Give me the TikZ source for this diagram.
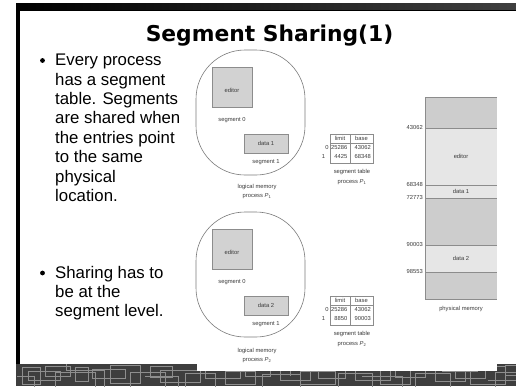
\documentclass[tikz,border=0pt]{standalone}
\usepackage{fontspec}
\setmainfont{Liberation Sans}
\newfontfamily\titlefont{DejaVu Sans}
\definecolor{txtgray}{HTML}{3A3A3A}
\definecolor{linegray}{HTML}{8C8C8C}
\definecolor{blobgray}{HTML}{7A7A7A}
\definecolor{seggray}{HTML}{D2D2D2}
\definecolor{memdark}{HTML}{CDCDCD}
\definecolor{memlight}{HTML}{E6E6E6}
\definecolor{banddark}{HTML}{3E3E3E}
\definecolor{bandline}{HTML}{8E8E8E}
\tikzset{
  lbl/.style={font=\fontsize{5.8}{6.5}\selectfont, text=txtgray, inner sep=0pt,
              text height=4.2pt, text depth=1.2pt},
  numr/.style={lbl, anchor=east},
  segbox/.style={draw=linegray, fill=seggray, line width=0.5pt, inner sep=0pt},
  blob/.style={draw=blobgray, line width=0.6pt, rounded corners=49pt},
  tabline/.style={draw=linegray, line width=0.5pt},
  memline/.style={draw=linegray, line width=0.6pt},
  bultext/.style={font=\fontsize{16.8}{19.4}\selectfont, anchor=base west, inner sep=0pt},
  buldot/.style={circle, fill=black, inner sep=0pt, minimum size=4.8pt},
  maze/.style={draw=bandline, line width=0.7pt},
}
\begin{document}
\begin{tikzpicture}[x=1pt, y=-1pt]
\useasboundingbox (0,0) rectangle (516,386);
\fill[white] (0,0) rectangle (516,386);

% top frame: shaded bar, thin rule, left bar
\shade[left color=black, middle color=black!70, right color=black!75] (16,3) rectangle (516,9);
\fill[black] (16,10) rectangle (516,11.2);
\fill[black] (16,10) rectangle (19.5,364);

% bottom band with rectilinear pattern
\fill[banddark] (16,364) rectangle (516,386);
\begin{scope}
  \clip (17,364.5) rectangle (516,386);
  \foreach \xa/\ya/\xb/\yb in {
     22/367/40/384, 28/371/60/380, 45/366/70/376, 55/372/95/388, 75/367/88/381,
     92/369/125/378, 110/365/140/383, 130/372/165/388, 150/366/172/377,
     160/370/200/382, 185/373/215/388, 205/367/240/378, 225/371/255/384,
     245/366/270/376, 262/374/300/388, 280/368/310/380, 300/371/335/384,
     318/366/345/378, 338/373/372/388, 355/368/390/380, 380/370/410/384,
     395/366/425/377, 415/373/450/388, 435/368/465/381, 455/370/485/378,
     470/366/505/384, 495/372/520/388, 505/365/520/375}
    \draw[maze] (\xa,\ya) rectangle (\xb,\yb);
  \draw[maze] (17,376) -- (34,376) -- (34,388);
  \draw[maze] (66,362) -- (66,370) -- (104,370) -- (104,388);
  \draw[maze] (145,376) -- (178,376) -- (178,388);
  \draw[maze] (228,362) -- (228,368) -- (262,368);
  \draw[maze] (290,376) -- (290,362);
  \draw[maze] (362,376) -- (402,376) -- (402,388);
  \draw[maze] (442,362) -- (442,371) -- (478,371);
  \draw[maze] (488,380) -- (516,380);
\end{scope}
% white margin of the figure running into the band
\fill[white] (197,364) rectangle (497,371);

% title
\node[font=\titlefont\bfseries\fontsize{21.8}{24}\selectfont, anchor=base, inner sep=0pt]
  (title) at (269.5,41) {Segment Sharing(1)};

% bullet points
\node[buldot] (dot1) at (42.5,60.5) {};
\foreach \t [count=\k from 0] in {Every process, has a segment, table. Segments,
    are shared when, the entries point, to the same, physical, location.}
  \node[bultext] (ba\k) at (55,65.7+19.43*\k) {\t};
\node[buldot] (dot2) at (42.5,273) {};
\foreach \t [count=\k from 0] in {Sharing has to, be at the, segment level.}
  \node[bultext] (bb\k) at (55,278.3+19.2*\k) {\t};

% logical memories and segment tables of the two processes
\foreach \o/\p/\dl/\lim/\bas/\lo in {0/1/data 1/4425/68348/0, 162/2/data 2/8850/90003/164} {
  \draw[blob] (196,50+\o) rectangle (305,175+\o);
  \node[segbox, anchor=north west, minimum width=40pt, minimum height=40pt]
    (ed\p) at (212,67+\o) {};
  \node[lbl] (edt\p) at (232,91+\o) {editor};
  \node[lbl] (s0\p) at (232,120+\o) {segment 0};
  \node[segbox, anchor=north west, minimum width=44pt, minimum height=19pt]
    (dt\p) at (244,134+\o) {};
  \node[lbl] (dtt\p) at (266,143.5+\o) {\dl};
  \node[lbl] (s1\p) at (266,162+\o) {segment 1};
  \node[lbl] (lm\p) at (257,186.5+\lo) {logical memory};
  \node[lbl] (lp\p) at (257,196+\lo) {process {\itshape P}\textsubscript{\p}};

  % segment table
  \draw[tabline] (330,134+\o) rectangle (373,163+\o);
  \draw[tabline] (330,143.3+\o) -- (373,143.3+\o);
  \draw[tabline] (350,134+\o) -- (350,163+\o);
  \node[lbl] (hl\p) at (340,139+\o) {limit};
  \node[lbl] (hb\p) at (361.5,139+\o) {base};
  \node[lbl] (i0\p) at (327,148.3+\o) {0};
  \node[lbl] (i1\p) at (323.5,157.3+\o) {1};
  \node[numr] (l0\p) at (347.5,148.3+\o) {25286};
  \node[numr] (l1\p) at (347.5,157.3+\o) {\lim};
  \node[numr] (b0\p) at (371,148.3+\o) {43062};
  \node[numr] (b1\p) at (371,157.3+\o) {\bas};
  \node[lbl] (st\p) at (352,172+\o) {segment table};
  \node[lbl] (sp\p) at (352,181.5+\o) {process {\itshape P}\textsubscript{\p}};
}

% physical memory
\fill[memdark]  (425,97)  rectangle (497,128);
\fill[memlight] (425,128) rectangle (497,185);
\fill[memlight] (425,185) rectangle (497,198);
\fill[memdark]  (425,198) rectangle (497,245);
\fill[memlight] (425,245) rectangle (497,272);
\fill[memdark]  (425,272) rectangle (497,299);
\draw[memline] (497,97) -- (425,97) -- (425,299) -- (497,299);
\foreach \yy in {128,185,198,245,272}
  \draw[memline] (425,\yy) -- (497,\yy);
\node[lbl] (pe) at (461,157) {editor};
\node[lbl] (pd1) at (461,191.5) {data 1};
\node[lbl] (pd2) at (461,258.5) {data 2};
\node[numr] (a1) at (423,128) {43062};
\node[numr] (a2) at (423,185) {68348};
\node[numr] (a3) at (423,198) {72773};
\node[numr] (a4) at (423,245) {90003};
\node[numr] (a5) at (423,272) {98553};
\node[lbl] (pm) at (461,308.5) {physical memory};
\end{tikzpicture}
\end{document}
